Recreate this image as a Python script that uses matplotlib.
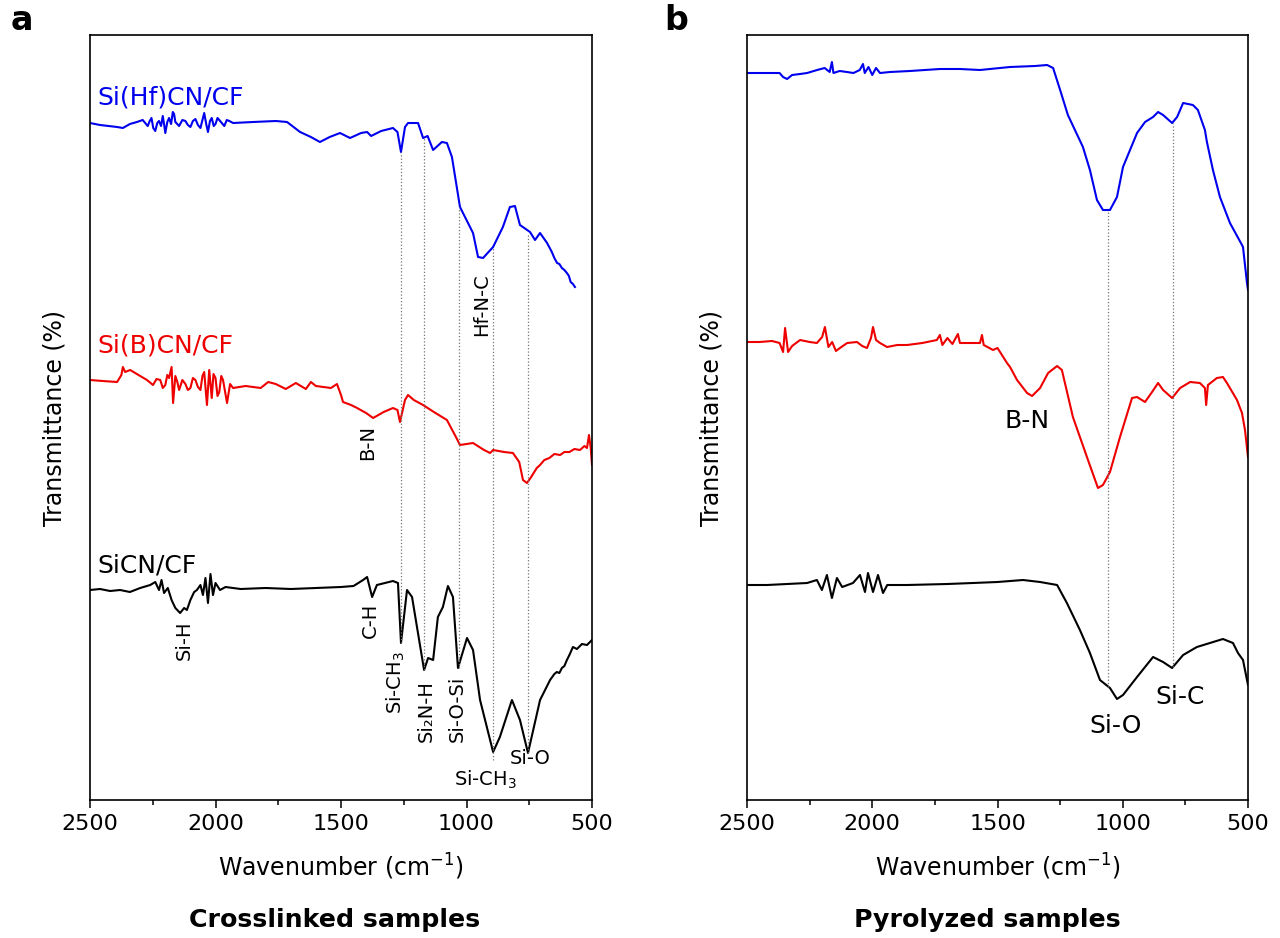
import numpy as np
import matplotlib.pyplot as plt
from matplotlib.ticker import MultipleLocator

plt.rcParams["font.family"] = ["DejaVu Sans"]

# FTIR spectra, (wavenumber cm-1, offset transmittance in a.u.)
# crosslinked samples
xl_hf = [
    (2500, 677), (2460, 675), (2392, 673), (2369, 672), (2341, 676), (2313, 678),
    (2290, 680), (2270, 674), (2262, 679), (2255, 682), (2248, 672), (2240, 669),
    (2232, 677), (2225, 679), (2217, 674), (2210, 684), (2205, 676), (2200, 667),
    (2192, 678), (2185, 682), (2177, 676), (2170, 688), (2165, 686), (2160, 678),
    (2145, 674), (2132, 680), (2120, 679), (2110, 675), (2100, 673), (2090, 679),
    (2080, 681), (2070, 675), (2060, 672), (2052, 680), (2045, 687), (2037, 676),
    (2030, 668), (2022, 679), (2015, 682), (2007, 674), (2000, 676), (1992, 682),
    (1985, 680), (1975, 677), (1965, 674), (1955, 680), (1945, 679), (1930, 677),
    (1850, 678), (1760, 679), (1715, 678), (1663, 668), (1620, 663), (1584, 658),
    (1545, 663), (1504, 667), (1464, 662), (1420, 667), (1396, 668), (1380, 664),
    (1340, 669), (1293, 672), (1275, 668), (1261, 648), (1245, 673), (1233, 677),
    (1193, 677), (1173, 662), (1155, 664), (1133, 650), (1098, 658), (1078, 657),
    (1058, 643), (1026, 593), (974, 567), (954, 543), (934, 542), (894, 553),
    (855, 573), (827, 593), (807, 594), (787, 575), (747, 568), (727, 560),
    (707, 567), (679, 557), (660, 548), (650, 542), (639, 537), (630, 536),
    (620, 532), (610, 530), (600, 527), (592, 524), (585, 518), (576, 516),
    (568, 513),
]
xl_b = [
    (2500, 420), (2450, 419), (2392, 418), (2375, 425), (2369, 433), (2360, 428),
    (2340, 430), (2300, 424), (2273, 420), (2249, 415), (2235, 421), (2220, 420),
    (2210, 412), (2200, 415), (2192, 425), (2185, 422), (2175, 433), (2169, 397),
    (2160, 424), (2152, 418), (2145, 410), (2132, 420), (2120, 416), (2110, 410),
    (2100, 412), (2090, 422), (2080, 420), (2070, 413), (2060, 410), (2052, 424),
    (2045, 428), (2034, 395), (2025, 430), (2015, 402), (2008, 426), (2000, 422),
    (1992, 404), (1985, 408), (1977, 424), (1970, 420), (1954, 397), (1942, 416),
    (1930, 412), (1880, 414), (1820, 412), (1790, 418), (1760, 416), (1720, 411),
    (1680, 417), (1640, 411), (1620, 418), (1600, 414), (1540, 412), (1516, 416),
    (1500, 405), (1492, 398), (1460, 395), (1436, 392), (1400, 387), (1372, 382),
    (1330, 388), (1293, 392), (1275, 390), (1265, 378), (1245, 400), (1233, 405),
    (1210, 400), (1173, 395), (1130, 388), (1078, 380), (1040, 362), (1026, 355),
    (974, 357), (930, 350), (906, 347), (894, 350), (850, 348), (815, 347),
    (790, 338), (775, 320), (759, 317), (745, 322), (720, 332), (707, 335),
    (690, 340), (670, 342), (650, 346), (627, 345), (610, 348), (590, 348),
    (570, 351), (548, 350), (530, 354), (520, 352), (512, 365), (505, 352),
    (500, 335),
]
xl_si = [
    (2500, 210), (2460, 211), (2420, 209), (2380, 210), (2341, 208), (2300, 212),
    (2260, 215), (2240, 218), (2225, 210), (2215, 220), (2205, 207), (2190, 212),
    (2175, 200), (2160, 192), (2141, 187), (2125, 192), (2114, 190), (2100, 200),
    (2085, 208), (2074, 210), (2060, 215), (2050, 205), (2040, 222), (2030, 197),
    (2020, 226), (2010, 205), (2000, 217), (1982, 210), (1960, 213), (1900, 211),
    (1800, 212), (1700, 211), (1600, 212), (1500, 213), (1450, 214), (1412, 220),
    (1396, 223), (1376, 203), (1357, 215), (1293, 219), (1273, 217), (1261, 157),
    (1237, 210), (1217, 203), (1169, 130), (1153, 142), (1133, 140), (1114, 183),
    (1094, 193), (1074, 214), (1054, 203), (1034, 132), (998, 162), (974, 150),
    (946, 100), (894, 48), (867, 63), (819, 100), (787, 80), (755, 47),
    (707, 100), (667, 120), (650, 126), (640, 128), (630, 127), (620, 132),
    (610, 134), (600, 140), (590, 145), (576, 153), (560, 151), (540, 156),
    (520, 155), (508, 158), (500, 160),
]

# pyrolyzed samples
py_hf = [
    (2500, 727), (2420, 727), (2370, 727), (2356, 723), (2340, 721), (2320, 725),
    (2288, 726), (2260, 727), (2220, 730), (2190, 732), (2170, 728), (2161, 738),
    (2155, 727), (2130, 729), (2101, 728), (2075, 727), (2050, 730), (2037, 736),
    (2030, 727), (2015, 733), (2000, 725), (1985, 732), (1969, 727), (1929, 728),
    (1850, 729), (1730, 731), (1650, 731), (1570, 730), (1450, 733), (1350, 734),
    (1302, 735), (1278, 732), (1250, 710), (1219, 685), (1159, 653), (1131, 630),
    (1103, 600), (1079, 590), (1051, 590), (1023, 603), (999, 633), (943, 667),
    (911, 678), (879, 683), (859, 688), (839, 685), (803, 677), (783, 683),
    (759, 697), (720, 695), (700, 690), (672, 670), (664, 658), (640, 630),
    (612, 603), (572, 577), (524, 555), (520, 553), (504, 517), (500, 510),
]
py_b = [
    (2500, 458), (2450, 458), (2400, 459), (2370, 457), (2356, 448), (2348, 472),
    (2336, 448), (2320, 454), (2288, 460), (2250, 458), (2221, 457), (2200, 463),
    (2189, 473), (2175, 453), (2160, 458), (2145, 449), (2129, 452), (2100, 457),
    (2061, 458), (2040, 454), (2021, 452), (2005, 462), (1997, 473), (1985, 460),
    (1969, 457), (1941, 453), (1900, 455), (1861, 455), (1800, 457), (1742, 460),
    (1730, 465), (1720, 455), (1700, 462), (1680, 456), (1658, 466), (1650, 457),
    (1598, 457), (1570, 457), (1562, 465), (1555, 455), (1518, 450), (1500, 452),
    (1462, 437), (1450, 433), (1422, 420), (1382, 407), (1362, 404), (1330, 412),
    (1298, 427), (1262, 434), (1243, 430), (1199, 383), (1143, 343), (1099, 312),
    (1079, 315), (1051, 328), (1011, 363), (963, 402), (943, 403), (911, 398),
    (883, 408), (859, 417), (839, 410), (803, 402), (771, 412), (731, 418),
    (692, 417), (672, 412), (667, 395), (660, 415), (624, 422), (600, 423),
    (584, 417), (544, 400), (524, 387), (512, 370), (500, 343),
]
py_si = [
    (2500, 215), (2420, 215), (2340, 216), (2260, 217), (2221, 220), (2201, 210),
    (2181, 225), (2161, 202), (2141, 222), (2120, 213), (2077, 217), (2049, 225),
    (2029, 208), (2017, 227), (1997, 208), (1977, 225), (1957, 207), (1940, 215),
    (1861, 215), (1700, 216), (1598, 217), (1500, 218), (1398, 220), (1330, 218),
    (1262, 215), (1223, 197), (1171, 170), (1131, 147), (1091, 120), (1051, 112),
    (1023, 101), (999, 105), (943, 123), (879, 143), (839, 138), (803, 132),
    (759, 145), (704, 153), (652, 157), (600, 161), (560, 157), (540, 147),
    (520, 140), (504, 120), (500, 115),
]

# guide lines: (wavenumber, top, bottom)
xl_guides = [(1261, 648, 157), (1169, 663, 130), (1030, 593, 132),
             (894, 553, 40), (755, 567, 47)]
py_guides = [(1059, 590, 113), (799, 677, 133)]

# band labels: (text, wavenumber, y, rotation)
xl_marks = [
    ("Si-H", 2126, 160, 90), ("C-H", 1384, 180, 90),
    ("Si-CH$_3$", 1280, 117, 90), ("Si₂N-H", 1161, 89, 90),
    ("Si-O-Si", 1038, 91, 90), ("Si-CH$_3$", 925, 20, 0),
    ("Si-O", 745, 41, 0), ("B-N", 1392, 358, 90), ("Hf-N-C", 938, 495, 90),
]
py_marks = [("B-N", 1382, 379), ("Si-O", 1027, 74), ("Si-C", 771, 103)]

names = ["Si(Hf)CN/CF", "Si(B)CN/CF", "SiCN/CF"]
name_y = [703, 455, 235]
colors = ["#0000ee", "#ee0000", "black"]

fig = plt.figure(figsize=(12.8, 9.38), dpi=100)
ax1 = fig.add_axes([90 / 1280, 1 - 800 / 938, 502 / 1280, 765 / 938])
ax2 = fig.add_axes([747 / 1280, 1 - 800 / 938, 501 / 1280, 765 / 938])

for ax, series in [(ax1, [xl_hf, xl_b, xl_si]), (ax2, [py_hf, py_b, py_si])]:
    for s, c in zip(series, colors):
        wn, t = np.array(s).T
        ax.plot(wn, t, color=c, lw=1.5)
    ax.set_xlim(2500, 500)
    ax.set_ylim(0, 765)
    ax.set_yticks([])
    ax.xaxis.set_major_locator(MultipleLocator(500))
    ax.xaxis.set_minor_locator(MultipleLocator(250))
    ax.tick_params(axis="x", which="major", direction="out", length=6,
                   width=1.1, labelsize=16, pad=4)
    ax.tick_params(axis="x", which="minor", direction="out", length=3.5,
                   width=1.1)
    for sp in ax.spines.values():
        sp.set_linewidth(1.2)
    ax.set_xlabel("Wavenumber (cm$^{-1}$)", fontsize=17)
    ax.xaxis.set_label_coords(0.5, -0.068)
    ax.set_ylabel("Transmittance (%)", fontsize=17)
    ax.yaxis.set_label_coords(-0.047, 0.5)

for g in xl_guides:
    ax1.vlines(g[0], g[2], g[1], colors="0.45", linestyles=":", lw=0.9)
for g in py_guides:
    ax2.vlines(g[0], g[2], g[1], colors="0.45", linestyles=":", lw=0.9)

for n, y, c in zip(names, name_y, colors):
    ax1.text(2472, y, n, color=c, fontsize=18, ha="left", va="center")

for txt, x, y, rot in xl_marks:
    ax1.text(x, y, txt, fontsize=14, rotation=rot, ha="center", va="center")
for txt, x, y in py_marks:
    ax2.text(x, y, txt, fontsize=18, ha="center", va="center")

fig.text(22 / 1280, 1 - 20 / 938, "a", fontsize=24, fontweight="bold",
         ha="center", va="center")
fig.text(676 / 1280, 1 - 20 / 938, "b", fontsize=24, fontweight="bold",
         ha="center", va="center")
fig.text(335 / 1280, 1 - 920 / 938, "Crosslinked samples", fontsize=18.2,
         fontweight="bold", ha="center", va="center")
fig.text(987 / 1280, 1 - 920 / 938, "Pyrolyzed samples", fontsize=18.2,
         fontweight="bold", ha="center", va="center")

fig.savefig("out.png", dpi=100)
